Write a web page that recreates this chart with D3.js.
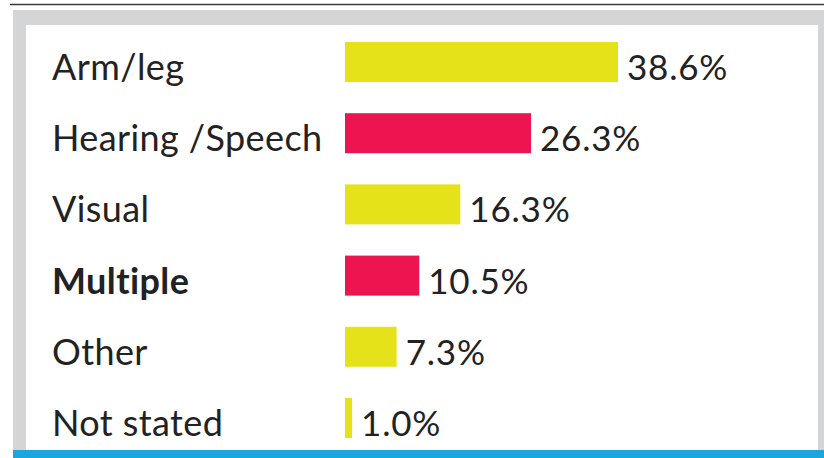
<!DOCTYPE html>
<html>
<head>
<meta charset="utf-8">
<script src="https://cdn.jsdelivr.net/npm/d3@7"></script>
<style>
  html, body { margin: 0; padding: 0; background: #ffffff; }
  svg { display: block; }
</style>
</head>
<body>
<svg id="chart" width="824" height="458"></svg>
<script>
const categories = ["Arm/leg", "Hearing /Speech", "Visual", "Multiple", "Other", "Not stated"];
const values = [38.6, 26.3, 16.3, 10.5, 7.3, 1.0];
const valueLabels = ["38.6%", "26.3%", "16.3%", "10.5%", "7.3%", "1.0%"];
const barColors = ["#e6e21a", "#ec1550", "#e6e21a", "#ec1550", "#e6e21a", "#e6e21a"];
const boldCategories = ["Multiple"];

const W = 824, H = 458;
const svg = d3.select("#chart");

// Frame
svg.append("rect").attr("x", 0).attr("y", 0).attr("width", W).attr("height", H).attr("fill", "#ffffff");
svg.append("line").attr("x1", 10).attr("x2", W).attr("y1", 4.5).attr("y2", 4.5)
  .attr("stroke", "#3a3a3a").attr("stroke-width", 1.5);
svg.append("rect").attr("x", 13).attr("y", 10).attr("width", W - 13).attr("height", H - 10).attr("fill", "#d3d5d7");
svg.append("rect").attr("x", 26).attr("y", 25).attr("width", 818 - 26).attr("height", 450 - 25).attr("fill", "#ffffff");
svg.append("rect").attr("x", 13).attr("y", 450).attr("width", W - 13).attr("height", 8).attr("fill", "#1ba6e0");

const x = d3.scaleLinear().domain([0, 38.6]).range([345, 618]);
const y = d3.scaleBand().domain(categories).range([42, 438]).paddingInner(0.438).paddingOuter(0);

const font = "Lato, 'DejaVu Sans', sans-serif";

const g = svg.append("g");
g.selectAll("rect.bar").data(categories).join("rect")
  .attr("class", "bar")
  .attr("x", x(0))
  .attr("y", d => y(d))
  .attr("width", (d, i) => x(values[i]) - x(0))
  .attr("height", y.bandwidth())
  .attr("fill", (d, i) => barColors[i]);

g.selectAll("text.cat").data(categories).join("text")
  .attr("class", "cat")
  .attr("x", 52)
  .attr("y", d => y(d) + y.bandwidth() / 2 + 18)
  .attr("font-family", font)
  .attr("font-size", 36)
  .attr("letter-spacing", 0.4)
  .attr("font-weight", d => boldCategories.includes(d) ? "bold" : "normal")
  .attr("fill", "#222222")
  .text(d => d);

g.selectAll("text.val").data(categories).join("text")
  .attr("class", "val")
  .attr("x", (d, i) => x(values[i]) + 9)
  .attr("y", d => y(d) + y.bandwidth() / 2 + 18)
  .attr("font-family", font)
  .attr("font-size", 35)
  .attr("letter-spacing", 0.8)
  .attr("fill", "#222222")
  .text((d, i) => valueLabels[i]);
</script>
</body>
</html>
